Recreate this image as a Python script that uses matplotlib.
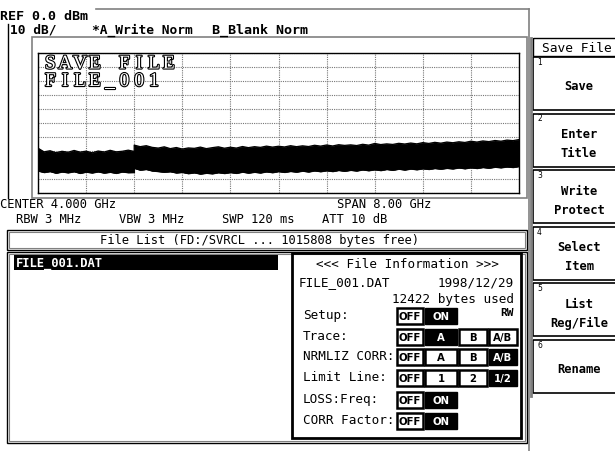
import matplotlib
matplotlib.use("Agg")
import matplotlib.pyplot as plt
from matplotlib.patches import Rectangle
import matplotlib.patheffects as pe
import numpy as np

# ---------------- data ----------------
center_ghz = 4.0
span_ghz = 8.0
ref_dbm = 0.0
db_per_div = 10
n_div_x = 10
n_div_y = 10

freq_ghz = [0.0, 0.1, 0.2, 0.3, 0.4, 0.5, 0.6, 0.7,
            0.8, 0.9, 1.0, 1.1, 1.2, 1.3, 1.4, 1.5,
            1.6, 1.6,
            1.7, 1.8, 1.9, 2.0, 2.1, 2.2, 2.3, 2.4,
            2.5, 2.6, 2.7, 2.8, 2.9, 3.0, 3.1, 3.2,
            3.3, 3.4, 3.5, 3.6, 3.7, 3.8, 3.9, 4.0,
            4.1, 4.2, 4.3, 4.4, 4.5, 4.6, 4.7, 4.8,
            4.9, 5.0, 5.1, 5.2, 5.3, 5.4, 5.5, 5.6,
            5.7, 5.8, 5.9, 6.0, 6.1, 6.2, 6.3, 6.4,
            6.5, 6.6, 6.7, 6.8, 6.9, 7.0, 7.1, 7.2,
            7.3, 7.4, 7.5, 7.6, 7.7, 7.8, 7.9, 8.0]
upper_dbm = [-68.0, -70.6, -69.8, -71.2, -70.2, -70.9, -69.6, -70.8,
             -70.1, -71.3, -70.0, -70.7, -69.5, -70.6, -70.2, -69.4,
             -70.3, -65.8,
             -66.9, -66.2, -67.4, -67.9, -67.0, -68.3, -67.5, -68.6,
             -67.8, -68.1, -67.2, -68.3, -67.6, -67.0, -68.0, -67.3,
             -67.9, -66.8, -67.6, -66.9, -67.4, -66.5, -67.2, -66.6,
             -67.1, -66.2, -66.9, -66.3, -66.8, -65.9, -66.5, -65.7,
             -66.4, -65.5, -66.0, -65.6, -66.1, -65.2, -65.8, -64.6,
             -65.4, -64.9, -65.3, -64.5, -65.0, -64.3, -64.9, -64.0,
             -64.6, -63.8, -64.4, -63.6, -64.1, -63.4, -63.9, -63.0,
             -63.6, -62.8, -63.3, -62.5, -63.0, -62.2, -62.6, -61.8]
lower_dbm = [-84.2, -85.3, -84.6, -85.8, -84.9, -85.5, -84.7, -85.9,
             -85.0, -85.6, -84.8, -85.7, -85.1, -85.9, -84.9, -85.4,
             -85.3, -82.3,
             -83.6, -83.1, -84.2, -84.6, -85.1, -84.7, -85.6, -85.2,
             -86.1, -85.5, -86.4, -85.8, -86.2, -85.4, -86.0, -85.3,
             -85.9, -85.0, -85.7, -85.1, -85.6, -84.8, -85.4, -84.6,
             -85.2, -84.5, -85.0, -84.3, -84.9, -84.1, -84.7, -84.0,
             -84.6, -83.8, -84.4, -83.7, -84.2, -83.4, -84.0, -83.3,
             -83.9, -83.1, -83.7, -82.9, -83.5, -82.8, -83.3, -82.6,
             -83.1, -82.4, -82.9, -82.3, -82.7, -82.0, -82.6, -81.9,
             -82.4, -81.7, -82.2, -81.5, -81.9, -81.3, -81.7, -81.0]

header_line1 = "REF 0.0 dBm"
header_line2 = ["10 dB/", "*A_Write Norm", "B_Blank Norm"]
title_lines = ["SAVE FILE", "FILE_001"]
footer_line1 = ["CENTER 4.000 GHz", "SPAN 8.00 GHz"]
footer_line2 = ["RBW 3 MHz", "VBW 3 MHz", "SWP 120 ms", "ATT 10 dB"]
file_list_title = "File List (FD:/SVRCL ... 1015808 bytes free)"
file_names = ["FILE_001.DAT"]
info_title = "<<< File Information >>>"
info_file = "FILE_001.DAT"
info_date = "1998/12/29"
info_used = "12422 bytes used"
info_access = "RW"
row_labels = ["Setup:", "Trace:", "NRMLIZ CORR:", "Limit Line:", "LOSS:Freq:", "CORR Factor:"]
row_options = [["OFF", "ON"], ["OFF", "A", "B", "A/B"], ["OFF", "A", "B", "A/B"],
               ["OFF", "1", "2", "1/2"], ["OFF", "ON"], ["OFF", "ON"]]
row_selected = [1, 1, 3, 3, 1, 1]
menu_title = "Save File"
softkeys = ["Save", "Enter\nTitle", "Write\nProtect", "Select\nItem", "List\nReg/File", "Rename"]

# ---------------- figure ----------------
W, H = 615, 451
fig = plt.figure(figsize=(W / 100, H / 100), dpi=100)
fig.patch.set_facecolor("white")
ui = fig.add_axes([0, 0, 1, 1])
ui.set_xlim(0, W)
ui.set_ylim(H, 0)
ui.axis("off")

MONO = "DejaVu Sans Mono"
GRAY = "#808080"


def txt(x, y, s, size=8.7, ha="left", color="black", weight="normal", family=MONO, z=3):
    # y is the vertical centre of capital letters
    yb = y + 0.36 * size * 100 / 72
    ui.text(x, yb, s, fontsize=size, ha=ha, va="baseline", color=color,
            fontweight=weight, family=family, zorder=z)


def rect(x0, y0, x1, y1, ec="black", fc="none", lw=1.0, z=1):
    ui.add_patch(Rectangle((x0, y0), x1 - x0, y1 - y0, ec=ec, fc=fc, lw=lw, zorder=z))


# outer frame lines
ui.plot([96, 529], [9, 9], color=GRAY, lw=1.2)
ui.plot([529, 529], [9, 451], color=GRAY, lw=1.2)
ui.plot([8, 8], [24, 198], color="black", lw=1.0)
# inner panel
rect(32, 37, 527, 198, ec=GRAY, lw=1.2)

# header
txt(0, 15.5, header_line1, size=9.6, weight="bold")
txt(10, 29, header_line2[0], size=9.3, weight="bold")
txt(92, 29, header_line2[1], size=9.3, weight="bold")
txt(212, 29, header_line2[2], size=9.6, weight="bold")

# ---------------- spectrum axes ----------------
gx0, gx1, gy0, gy1 = 38, 519, 53, 193
ax = fig.add_axes([gx0 / W, 1 - gy1 / H, (gx1 - gx0) / W, (gy1 - gy0) / H])
ax.patch.set_alpha(0)
f0 = center_ghz - span_ghz / 2
f1 = center_ghz + span_ghz / 2
ax.set_xlim(f0, f1)
ax.set_ylim(ref_dbm - db_per_div * n_div_y, ref_dbm)
ax.set_xticks(np.linspace(f0, f1, n_div_x + 1))
ax.set_yticks(np.linspace(ref_dbm - db_per_div * n_div_y, ref_dbm, n_div_y + 1))
ax.grid(True, color="#777777", linestyle=(0, (1, 1)), linewidth=0.8)
ax.tick_params(length=0, labelbottom=False, labelleft=False)
for sp in ax.spines.values():
    sp.set_color("black")
    sp.set_linewidth(1.0)
ax.fill_between(freq_ghz, lower_dbm, upper_dbm, color="black", lw=0.5, zorder=3)
ax.plot(freq_ghz, upper_dbm, color="black", lw=0.9, zorder=3)
ax.plot(freq_ghz, lower_dbm, color="black", lw=0.9, zorder=3)

# big title characters in fixed-width cells, outlined
cell_w = 14.8
for i, (s, yc) in enumerate(zip(title_lines, [62, 79.5])):
    for k, ch in enumerate(s):
        if ch == " ":
            continue
        ax.text(43 + cell_w * (k + 0.5), yc + 6.5, ch, transform=ui.transData,
                fontsize=14, family="Liberation Serif", va="baseline", ha="center",
                color="white", zorder=6,
                path_effects=[pe.withStroke(linewidth=1.6, foreground="black")])

# footer
txt(0, 204, footer_line1[0])
txt(337, 204, footer_line1[1])
for x, s in zip([16, 119, 222, 322], footer_line2):
    txt(x, 218.5, s)

# file list bar
rect(7, 230, 527, 250, lw=1.0)
rect(9, 232, 525, 248, ec=GRAY, lw=0.8)
txt(260, 240, file_list_title, ha="center")

# file list box
rect(7, 252, 527, 443, lw=1.0)
rect(9, 254, 525, 441, ec=GRAY, lw=0.8)
for i, s in enumerate(file_names):
    rect(14, 255 + i * 16, 278, 270 + i * 16, ec="black", fc="black", lw=0)
    txt(16, 262.5 + i * 16, s, color="white", weight="bold")

# info box
rect(292, 253, 521, 438, lw=2.0)
txt(407, 263, info_title, size=9.1, ha="center")
txt(299, 281.5, info_file, size=9.1)
txt(514, 281.5, info_date, size=9.1, ha="right")
txt(514, 298, info_used, size=9.1, ha="right")
txt(514, 312, info_access, size=8, ha="right", weight="bold")

col_x = [(397, 423), (425, 457), (459, 487), (489, 517)]
row_y = [316, 337, 357, 378, 400, 421]
for yc, lab, opts, sel in zip(row_y, row_labels, row_options, row_selected):
    txt(303, yc - 1.5, lab, size=9.1)
    for j, o in enumerate(opts):
        x0, x1 = col_x[j]
        if j == sel:
            rect(x0, yc - 8, x1, yc + 8, ec="black", fc="black", lw=1.0, z=2)
            txt((x0 + x1) / 2, yc, o, size=7.3, ha="center", color="white",
                weight="bold", family="DejaVu Sans", z=3)
        else:
            rect(x0, yc - 8, x1, yc + 8, ec="black", fc="white", lw=1.8, z=2)
            txt((x0 + x1) / 2, yc, o, size=7.3, ha="center", color="black",
                weight="bold", family="DejaVu Sans", z=3)

# softkeys
ui.plot([531, 531], [38, 396], color=GRAY, lw=2.0)
rect(533, 38, 630, 56, lw=1.0)
txt(577, 47, menu_title, size=9.3, ha="center")
key_h = 54
for i, lab in enumerate(softkeys):
    top = 56 + i * 56.6
    rect(533, top + 1, 630, top + key_h, lw=1.2)
    txt(537, top + 6, str(i + 1), size=5.5, family="DejaVu Sans")
    lines = lab.split("\n")
    if len(lines) == 1:
        txt(579, top + 30, lines[0], size=8.7, ha="center", weight="bold")
    else:
        txt(579, top + 21, lines[0], size=8.7, ha="center", weight="bold")
        txt(579, top + 40, lines[1], size=8.7, ha="center", weight="bold")

fig.savefig("out.png", dpi=100, facecolor="white")
